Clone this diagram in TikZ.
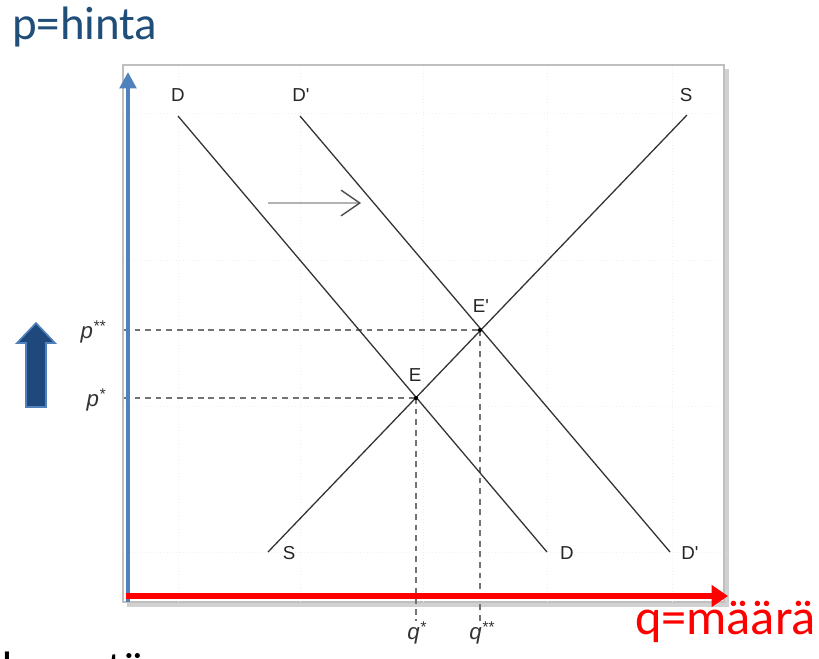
\documentclass[tikz,border=0pt]{standalone}
\usepackage{fontspec}
\setmainfont{Carlito}
\newfontfamily\chartfont{Liberation Sans}
\usetikzlibrary{arrows.meta}
\definecolor{axisblue}{HTML}{4F81BD}
\definecolor{blockblue}{HTML}{1F497D}
\definecolor{titleblue}{HTML}{1F4E79}
\tikzset{
  gridline/.style={black!6, line width=0.8pt, dotted},
  curve/.style={black!80, line width=1.1pt},
  guide/.style={black!55, line width=1.1pt, dash pattern=on 5pt off 4pt},
  lbl/.style={font=\chartfont\fontsize{16}{16}\selectfont, text=black!85, inner sep=0pt},
  tick/.style={font=\chartfont\itshape\fontsize{19}{19}\selectfont, text=black!80, inner sep=0pt},
  bigtext/.style={font=\fontsize{40}{42}\selectfont, inner sep=0pt}
}
\begin{document}
\begin{tikzpicture}[x=0.03cm,y=-0.03cm]
\useasboundingbox (0,0) rectangle (819,658);
% frame and shadow
\fill[black!18] (127,69) rectangle (729,607);
\filldraw[fill=white, draw=black!25, line width=1.6pt] (123,65) rectangle (724,602);
% faint grid
\foreach \gx in {178,300,423,547,672}
  \draw[gridline] (\gx,66) -- (\gx,601);
\foreach \gy in {113,260,406,552}
  \draw[gridline] (124,\gy) -- (723,\gy);
% curve end points
\coordinate (dA) at (178,116);
\coordinate (dB) at (547,552);
\coordinate (pA) at (300,116);
\coordinate (pB) at (670,552);
\coordinate (sA) at (268,552);
\coordinate (sB) at (687,115);
\coordinate (E) at (416,398);
\coordinate (Ep) at (480,330);
% ticks
\node[tick, anchor=east] (pss) at (106,332) {p\textsuperscript{**}};
\node[tick, anchor=east] (ps) at (106,400) {p\textsuperscript{*}};
\node[tick] (qs) at (417,633) {q\textsuperscript{*}};
\node[tick] (qss) at (482,633) {q\textsuperscript{**}};
% guide lines
\draw[guide] (124,330) -- (Ep);
\draw[guide] (124,398) -- (E);
\draw[guide] (Ep) -- (qss.north -| Ep);
\draw[guide] (E) -- (qs.north -| E);
% curves
\draw[curve] (dA) -- (dB);
\draw[curve] (pA) -- (pB);
\draw[curve] (sA) -- (sB);
\fill[black] (E) circle (1.8pt);
\fill[black] (Ep) circle (1.8pt);
% curve labels
\node[lbl] (dtop) at (178,95) {D};
\node[lbl] (ptop) at (301,95) {D'};
\node[lbl] (stop) at (686,95) {S};
\node[lbl] (sbot) at (289,553) {S};
\node[lbl] (dbot) at (567,553) {D};
\node[lbl] (pbot) at (690,553) {D'};
\node[lbl] (elbl) at (415,375) {E};
\node[lbl] (eplbl) at (481,306) {E'};
% shift arrow
\draw[black!30, line width=2.4pt, -{Straight Barb[length=16pt, width=22pt, line width=1.2pt, color=black!70]}] (268,203) -- (361,203);
% axes
\draw[axisblue, line width=4.2pt, -{Triangle[length=14pt, width=14pt]}] (128,602) -- (128,72);
\draw[red, line width=5pt, -{Triangle[length=14pt, width=18pt]}] (126,596) -- (728,596);
% block arrow
\filldraw[fill=blockblue, draw=axisblue, line width=1.4pt]
  (26,407) -- (26,343) -- (17,343) -- (36,323) -- (55,343) -- (46,343) -- (46,407) -- cycle;
% texts
\node[bigtext, anchor=base west, text=titleblue] (price) at (12,39) {p=hinta};
\node[bigtext, anchor=base east, text=red, font=\fontsize{43}{45}\selectfont] (qty) at (816,634) {q=määrä};
\node[bigtext, anchor=base west] (dem) at (2,684) {kysyntä};
\end{tikzpicture}
\end{document}
